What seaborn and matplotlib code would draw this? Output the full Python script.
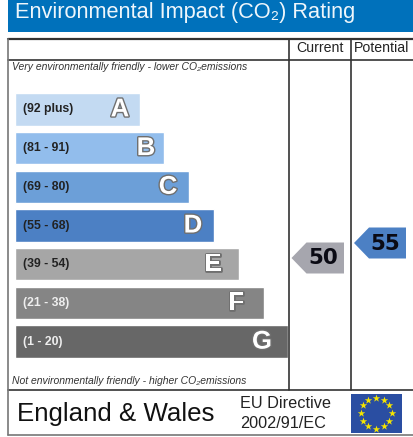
import numpy as np
import pandas as pd
import matplotlib
matplotlib.use("Agg")
import matplotlib.pyplot as plt
import matplotlib.patheffects as pe
from matplotlib.patches import Polygon, Rectangle
import seaborn as sns

bands = ["A", "B", "C", "D", "E", "F", "G"]
ranges = ["(92 plus)", "(81 - 91)", "(69 - 80)", "(55 - 68)", "(39 - 54)", "(21 - 38)", "(1 - 20)"]
bar_lengths = [125, 149, 174, 199, 224, 249, 273]
bar_colors = ["#c3daf2", "#92bdec", "#6c9fd8", "#4c80c4", "#a6a6a6", "#858585", "#676767"]
range_colors = ["#222222", "#222222", "#222222", "#222222", "#222222", "#eeeeee", "#eeeeee"]

current_rating = 50
potential_rating = 55

sns.set_theme(style="white")
plt.rcParams["font.family"] = ["Liberation Sans", "DejaVu Sans"]

W, H = 413, 437
fig = plt.figure(figsize=(W / 100, H / 100), dpi=100)

# page axes, in pixels
ax = fig.add_axes([0, 0, 1, 1])
ax.set_xlim(0, W)
ax.set_ylim(H, 0)
ax.axis("off")

# title band
ax.add_patch(Rectangle((8, 0), 405, 32, color="#0071bb", lw=0))
ax.text(15, 12.5, "Environmental Impact (CO₂) Rating", color="#eef6fb", fontsize=15.7, va="center")

# table lines
line = "#333333"
ax.plot([8, 413], [38.5, 38.5], color=line, lw=1.6)
ax.plot([8, 413], [59.5, 59.5], color=line, lw=1.2)
ax.plot([8, 413], [390, 390], color=line, lw=1.2)
ax.plot([8, 413], [435, 435], color="#777777", lw=1.2)
ax.plot([8, 8], [38.5, 435], color="#777777", lw=1.2)
ax.plot([288.5, 288.5], [38.5, 390], color=line, lw=1.2)
ax.plot([350.5, 350.5], [38.5, 390], color=line, lw=1.2)

ax.text(319.5, 48, "Current", fontsize=10.2, ha="center", va="center", color="#222222")
ax.text(382, 48, "Potential", fontsize=10.2, ha="center", va="center", color="#222222")
ax.text(12, 66.5, "Very environmentally friendly - lower CO₂emissions", fontsize=7.45,
        style="italic", va="center", color="#333333")
ax.text(12, 381, "Not environmentally friendly - higher CO₂emissions", fontsize=7.45,
        style="italic", va="center", color="#333333")

# footer
ax.text(17, 413.5, "England & Wales", fontsize=18.6, va="center", color="#111111")
ax.text(240, 403, "EU Directive", fontsize=11.7, va="center", color="#222222")
ax.text(240, 423, "2002/91/EC", fontsize=11.7, va="center", color="#222222")

# eu flag
ax.add_patch(Rectangle((351, 394), 51, 39, color="#2a4ea2", lw=0))
angle = np.arange(12) * np.pi / 6
ax.scatter(376 + 15.5 * np.cos(angle), 413 + 15.5 * np.sin(angle), marker="*", s=32,
           color="#f5e500", lw=0, zorder=3)

# rating bars
df = pd.DataFrame({"band": bands, "length": bar_lengths})
bar_ax = fig.add_axes([15 / W, 1 - 361 / H, 273 / W, 271 / H])
bar_ax.patch.set_alpha(0)
sns.barplot(data=df, x="length", y="band", hue="band", palette=bar_colors, legend=False,
            width=0.84, saturation=1, ax=bar_ax)
bar_ax.set_xlim(0, 273)
bar_ax.axis("off")

# letter gap from the bar end, not the same on every bar
letter_gap = [20, 18, 21, 21, 26, 28, 26]
for i, (rng, col, n) in enumerate(zip(ranges, range_colors, bar_lengths)):
    bar_ax.text(8, i, rng, fontsize=8.8, fontweight="bold", color=col, va="center")
    bar_ax.text(n - letter_gap[i], i, bands[i], fontsize=18.5, fontweight="bold", color="white",
                ha="center", va="center",
                path_effects=[pe.withStroke(linewidth=2, foreground="#6f6f6f")])


def rating_y(r):
    # rating scale of the picture: 3 px a point, 50 sits at y=258
    return 258 - (r - 50) * 3


def arrow(left, right, rating, color):
    y = rating_y(rating)
    tip = left + 15
    ax.add_patch(Polygon([(left, y), (tip, y - 15.5), (right, y - 15.5), (right, y + 15.5), (tip, y + 15.5)],
                         closed=True, color=color, lw=0))
    ax.text((tip + right) / 2 - 2, y + 0.5, str(rating), fontsize=15.5, fontweight="bold",
            color="#0a0a14", ha="center", va="center",
            family=["DejaVu Sans"])


arrow(291.5, 344, current_rating, "#a6a6ae")
arrow(354, 406, potential_rating, "#4c80c4")

fig.savefig("out.png", dpi=100)
